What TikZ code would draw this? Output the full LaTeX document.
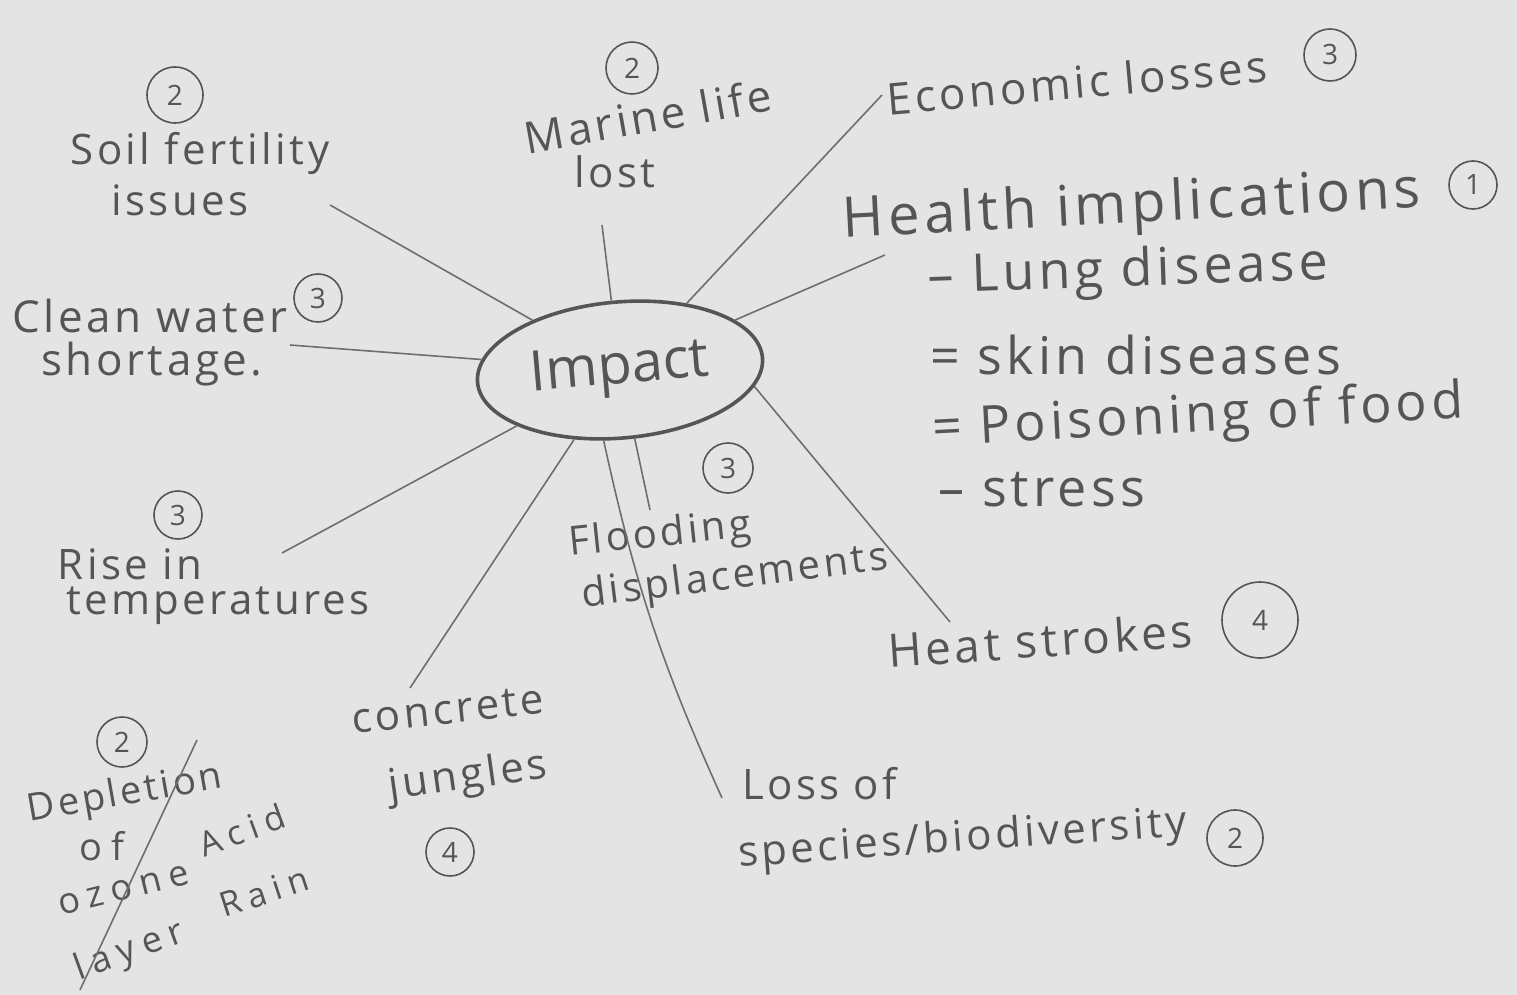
\documentclass[tikz,border=0pt]{standalone}
\usepackage{fontspec}
\setmainfont{Open Sans}
\newfontfamily\hand{Open Sans}[LetterSpace=8]
\newfontfamily\handwide{Open Sans}[LetterSpace=22]
\usetikzlibrary{shapes.geometric}
\definecolor{paper}{HTML}{E4E4E4}
\definecolor{pencil}{HTML}{555555}
\definecolor{lead}{HTML}{6E6E6E}
\begin{document}
\begin{tikzpicture}[x=0.5pt,y=-0.5pt,
  hw/.style={text=pencil, font=\hand\fontsize{21}{25}\selectfont, inner sep=0pt},
  num/.style={draw=pencil, circle, line width=0.8pt, minimum size=#1, inner sep=0pt, text=pencil, font=\fontsize{14}{14}\selectfont},
  link/.style={draw=lead, line width=0.8pt},
]
\fill[paper] (0,0) rectangle (1517,995);
\useasboundingbox (0,0) rectangle (1517,995);

% centre
\node[draw=pencil, ellipse, line width=1.8pt, minimum width=143pt, minimum height=68pt, rotate=5, text=pencil, font=\fontsize{28}{30}\selectfont] (impact) at (620,370) {Impact};

% soil
\node[hw] (soil1) at (200,153) {Soil fertility};
\node[hw] (soil2) at (180,200) {issues};
\node[num=28pt] (soiln) at (175,95) {2};
\coordinate (soilend) at (330,205);
\draw[link] (soilend) -- (impact);

% marine
\node[hw, rotate=10, font=\hand\fontsize{22}{26}\selectfont] (mar1) at (648,116) {Marine life};
\node[hw] (mar2) at (615,172) {lost};
\node[num=26pt] (marn) at (632,68) {2};
\coordinate (marend) at (602,225);
\draw[link] (marend) -- (impact);

% economic
\node[hw, rotate=5, font=\hand\fontsize{22}{26}\selectfont] (eco) at (1077,82) {Economic losses};
\node[num=26pt] (econ) at (1330,55) {3};
\coordinate (ecoend) at (882,95);
\draw[link] (ecoend) -- (impact.40);

% health
\node[hw, rotate=3, font=\hand\fontsize{28}{32}\selectfont] (health) at (1132,208) {Health implications};
\node[num=24pt] (healthn) at (1473,185) {1};
\coordinate (healthend) at (885,255);
\draw[link] (healthend) -- (impact);
\node[hw, anchor=west, rotate=2, font=\hand\fontsize{26}{30}\selectfont] (lung) at (928,280) {– Lung disease};
\node[hw, anchor=west, font=\hand\fontsize{26}{30}\selectfont] (skin) at (930,355) {= skin diseases};
\node[hw, anchor=west, rotate=3, font=\hand\fontsize{26}{30}\selectfont] (poison) at (932,432) {= Poisoning of food};
\node[hw, anchor=west, font=\hand\fontsize{26}{30}\selectfont] (stress) at (938,490) {– stress};

% clean water
\node[hw, font=\hand\fontsize{22}{26}\selectfont] (clean1) at (150,316) {Clean water};
\node[num=24pt] (cleann) at (318,298) {3};
\node[hw, font=\hand\fontsize{22}{26}\selectfont] (clean2) at (152,364) {shortage.};
\coordinate (cleanend) at (290,345);
\draw[link] (cleanend) -- (impact);

% rise in temperatures
\node[num=24pt] (risen) at (178,515) {3};
\node[hw] (rise1) at (130,564) {Rise in};
\node[hw] (rise2) at (218,606) {temperatures};
\coordinate (riseend) at (282,553);
\draw[link] (riseend) -- (impact);

% concrete jungles
\node[hw, rotate=6] (conc1) at (448,710) {concrete};
\node[hw, rotate=8] (conc2) at (468,778) {jungles};
\node[num=24pt] (concn) at (450,852) {4};
\coordinate (concend) at (410,688);
\draw[link] (concend) -- (impact);

% flooding
\node[num=25pt] (floodn) at (728,468) {3};
\node[hw, rotate=6, font=\hand\fontsize{20}{24}\selectfont] (flood1) at (660,536) {Flooding};
\node[hw, rotate=7, font=\hand\fontsize{20}{24}\selectfont] (flood2) at (735,578) {displacements};
\coordinate (floodend) at (650,510);
\draw[link] (floodend) -- (impact);

% depletion / acid rain
\node[num=25pt] (depn) at (122,742) {2};
\node[hw, rotate=10, font=\hand\fontsize{19}{22}\selectfont] (dep1) at (125,795) {Depletion};
\node[hw, font=\handwide\fontsize{19}{22}\selectfont] (dep2) at (102,846) {of};
\node[hw, rotate=14, font=\handwide\fontsize{18}{22}\selectfont] (dep3) at (124,890) {ozone};
\node[hw, rotate=20, font=\handwide\fontsize{18}{22}\selectfont] (dep4) at (130,952) {layer};
\node[hw, rotate=20, font=\handwide\fontsize{17}{21}\selectfont] (acid1) at (242,830) {Acid};
\node[hw, rotate=18, font=\handwide\fontsize{17}{21}\selectfont] (acid2) at (264,892) {Rain};
\coordinate (slashtop) at (197,740);
\coordinate (slashbot) at (80,990);
\draw[link] (slashtop) -- (slashbot);

% loss of species
\node[hw, anchor=west] (loss1) at (742,784) {Loss of};
\node[hw, anchor=west, rotate=4] (loss2) at (738,856) {species/biodiversity};
\node[num=28pt] (lossn) at (1235,838) {2};
\coordinate (lossend) at (722,798);
\draw[link] (lossend) to[bend left=6] (impact.252);

% heat strokes
\node[hw, rotate=4, font=\hand\fontsize{23}{27}\selectfont] (heat) at (1040,640) {Heat strokes};
\node[num=38pt] (heatn) at (1260,620) {4};
\coordinate (heatend) at (950,622);
\draw[link] (heatend) -- (impact.-12);
\end{tikzpicture}
\end{document}
